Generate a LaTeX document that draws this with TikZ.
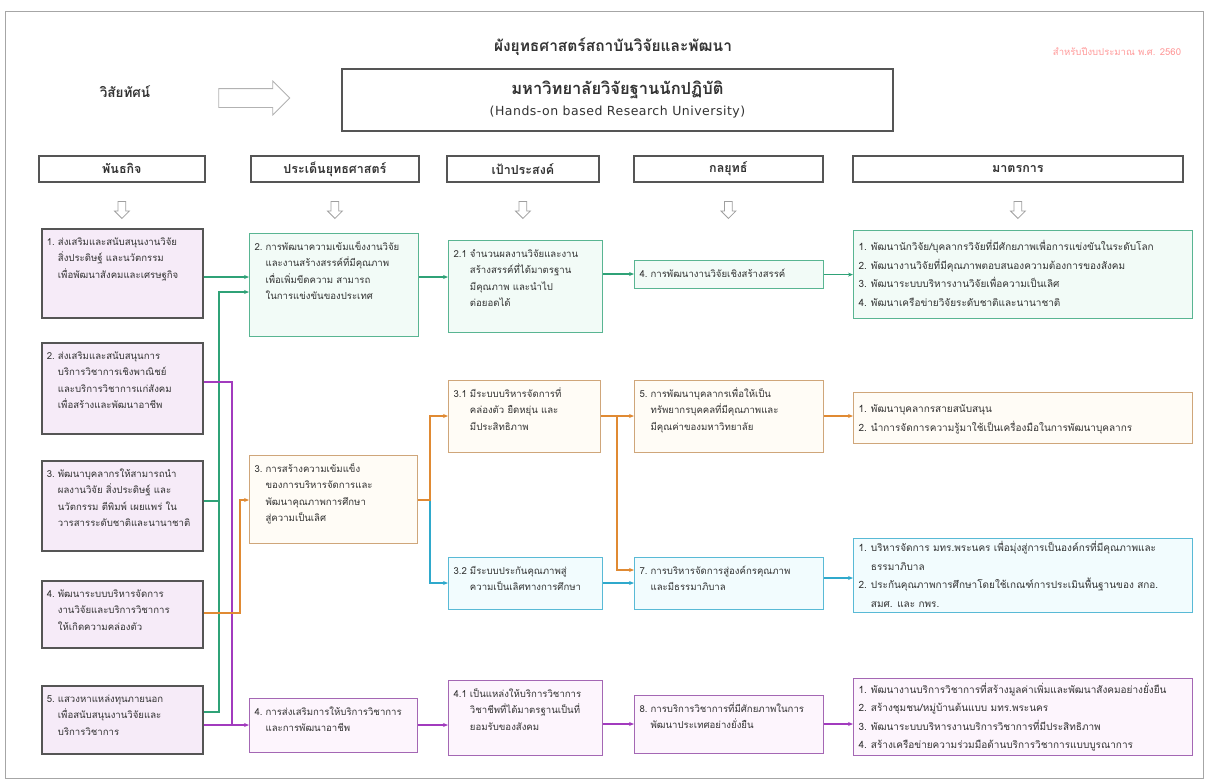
\documentclass[tikz,border=0pt]{standalone}
\usepackage{fontspec}
\newfontfamily\thai[Script=Thai]{Loma}
\newfontfamily\engfont[LetterSpace=4]{DejaVu Sans}
\usetikzlibrary{arrows.meta,shapes.arrows}

\definecolor{framegray}{HTML}{555555}
\definecolor{txtgray}{HTML}{333333}
\definecolor{misfill}{HTML}{F6EBF8}
\definecolor{grnline}{HTML}{2FA277}
\definecolor{grnfill}{HTML}{F2FBF7}
\definecolor{orgline}{HTML}{E08A33}
\definecolor{orgbox}{HTML}{CFA67A}
\definecolor{orgfill}{HTML}{FFFCF6}
\definecolor{cynline}{HTML}{2FA9CC}
\definecolor{cynfill}{HTML}{F2FCFE}
\definecolor{purline}{HTML}{A23BBE}
\definecolor{purbox}{HTML}{A467B4}
\definecolor{purfill}{HTML}{FDF5FD}

% box text: width, height (outer), vertical position, content
\newcommand\intxt[4][t]{\parbox[t][\dimexpr#3-10pt\relax][#1]{\dimexpr#2-10pt\relax}{#4}}
% numbered text with hanging indent
\newcommand\hangtxt[2]{\begin{tabular}[t]{@{}l@{\hspace{3pt}}l@{}}#1&\begin{tabular}[t]{@{}l@{}}#2\end{tabular}\end{tabular}}

\begin{document}
\begin{tikzpicture}[x=1pt,y=-1pt,
    >={Stealth[length=5pt,width=4pt]},
    cbox/.style={draw, line width=1.2pt, anchor=north west, inner sep=5pt,
      font=\thai\fontsize{9.6}{16.5}\selectfont, text=txtgray},
    misbox/.style={cbox, draw=framegray, line width=1.8pt, fill=misfill},
    grnbox/.style={cbox, draw=grnline!80, fill=grnfill},
    orgbox/.style={cbox, draw=orgbox, fill=orgfill},
    cynbox/.style={cbox, draw=cynline!80, fill=cynfill},
    purbox/.style={cbox, draw=purbox, fill=purfill},
    msrtxt/.style={font=\thai\fontsize{10}{18.5}\selectfont},
    hdr/.style={draw=framegray, line width=1.8pt, fill=white, anchor=north west,
      minimum height=26pt, font=\thai\bfseries\fontsize{12.5}{14}\selectfont, text=txtgray},
    downarr/.style={single arrow, draw=gray!75, fill=white, line width=0.8pt, rotate=-90,
      inner sep=3.5pt, single arrow head extend=3.5pt, minimum height=17pt},
    gline/.style={draw=grnline, line width=1.3pt},
    oline/.style={draw=orgline, line width=1.3pt},
    cline/.style={draw=cynline, line width=1.3pt},
    pline/.style={draw=purline, line width=1.3pt},
  ]
  \useasboundingbox (0,0) rectangle (1207,782);
  %\draw[help lines, color=gray!30, dashed] (0,0) grid[step=50] (1207,782);
  \draw[gray!70, line width=1pt] (5,11) rectangle (1203,778);

  % heading and vision
  \node[font=\thai\bfseries\fontsize{15.5}{18}\selectfont, text=txtgray] (title) at (613,47) {ผังยุทธศาสตร์สถาบันวิจัยและพัฒนา};
  \node[font=\thai\fontsize{9.5}{11}\selectfont, text=red!40] (year) at (1117,51) {สำหรับปีงบประมาณ พ.ศ. 2560};
  \node[font=\thai\bfseries\fontsize{13.5}{15}\selectfont, text=txtgray] (vislbl) at (125,92) {วิสัยทัศน์};
  \node[single arrow, draw=gray!60, fill=white, line width=0.8pt, inner sep=9pt,
    single arrow head extend=7.5pt, minimum height=71pt] (visarr) at (249.5,98) {};
  \node[hdr, minimum width=551pt, minimum height=62pt, align=center, font=\thai] (vision) at (341,68)
    {{\bfseries\fontsize{16.5}{18}\selectfont มหาวิทยาลัยวิจัยฐานนักปฏิบัติ}\\[6pt]
     {\engfont\fontsize{12.5}{14}\selectfont (Hands-on based Research University)}};

  % column headers
  \node[hdr, minimum width=166pt] (h1) at (38,155) {พันธกิจ};
  \node[hdr, minimum width=168pt] (h2) at (250,155) {ประเด็นยุทธศาสตร์};
  \node[hdr, minimum width=152pt] (h3) at (446,155) {เป้าประสงค์};
  \node[hdr, minimum width=189pt] (h4) at (633,155) {กลยุทธ์};
  \node[hdr, minimum width=330pt] (h5) at (852,155) {มาตรการ};
  \node[downarr] (d1) at (h1.south |- 0,208) {};
  \node[downarr] (d2) at (h2.south |- 0,208) {};
  \node[downarr] (d3) at (h3.south |- 0,208) {};
  \node[downarr] (d4) at (h4.south |- 0,208) {};
  \node[downarr] (d5) at (h5.south |- 0,208) {};

  % missions
  \node[misbox] (m1) at (41,228) {\intxt{161pt}{89pt}{\hangtxt{1.}{ส่งเสริมและสนับสนุนงานวิจัย\\สิ่งประดิษฐ์ และนวัตกรรม\\เพื่อพัฒนาสังคมและเศรษฐกิจ}}};
  \node[misbox] (m2) at (41,342) {\intxt{161pt}{91pt}{\hangtxt{2.}{ส่งเสริมและสนับสนุนการ\\บริการวิชาการเชิงพาณิชย์\\และบริการวิชาการแก่สังคม\\เพื่อสร้างและพัฒนาอาชีพ}}};
  \node[misbox] (m3) at (41,460) {\intxt{161pt}{90pt}{\hangtxt{3.}{พัฒนาบุคลากรให้สามารถนำ\\ผลงานวิจัย สิ่งประดิษฐ์ และ\\นวัตกรรม ตีพิมพ์ เผยแพร่ ใน\\วารสารระดับชาติและนานาชาติ}}};
  \node[misbox] (m4) at (41,580) {\intxt{161pt}{67pt}{\hangtxt{4.}{พัฒนาระบบบริหารจัดการ\\งานวิจัยและบริการวิชาการ\\ให้เกิดความคล่องตัว}}};
  \node[misbox] (m5) at (41,685) {\intxt{161pt}{68pt}{\hangtxt{5.}{แสวงหาแหล่งทุนภายนอก\\เพื่อสนับสนุนงานวิจัยและ\\บริการวิชาการ}}};

  % strategic issues
  \node[grnbox] (s2) at (249,233) {\intxt{169pt}{103pt}{\hangtxt{2.}{การพัฒนาความเข้มแข็งงานวิจัย\\และงานสร้างสรรค์ที่มีคุณภาพ\\เพื่อเพิ่มขีดความ สามารถ\\ในการแข่งขันของประเทศ}}};
  \node[orgbox] (s3) at (249,455) {\intxt{168pt}{88pt}{\hangtxt{3.}{การสร้างความเข้มแข็ง\\ของการบริหารจัดการและ\\พัฒนาคุณภาพการศึกษา\\สู่ความเป็นเลิศ}}};
  \node[purbox] (s4) at (249,698) {\intxt{168pt}{54pt}{\hangtxt{4.}{การส่งเสริมการให้บริการวิชาการ\\และการพัฒนาอาชีพ}}};

  % goals
  \node[grnbox] (g21) at (448,240) {\intxt{154pt}{92pt}{\hangtxt{2.1}{จำนวนผลงานวิจัยและงาน\\สร้างสรรค์ที่ได้มาตรฐาน\\มีคุณภาพ และนำไป\\ต่อยอดได้}}};
  \node[orgbox] (g31) at (448,380) {\intxt{152pt}{72pt}{\hangtxt{3.1}{มีระบบบริหารจัดการที่\\คล่องตัว ยืดหยุ่น และ\\มีประสิทธิภาพ}}};
  \node[cynbox] (g32) at (448,557) {\intxt{154pt}{52pt}{\hangtxt{3.2}{มีระบบประกันคุณภาพสู่\\ความเป็นเลิศทางการศึกษา}}};
  \node[purbox] (g41) at (448,680) {\intxt{154pt}{75pt}{\hangtxt{4.1}{เป็นแหล่งให้บริการวิชาการ\\วิชาชีพที่ได้มาตรฐานเป็นที่\\ยอมรับของสังคม}}};

  % strategies
  \node[grnbox] (t4) at (634,260) {\intxt[c]{189pt}{28pt}{\hangtxt{4.}{การพัฒนางานวิจัยเชิงสร้างสรรค์}}};
  \node[orgbox] (t5) at (634,380) {\intxt{189pt}{72pt}{\hangtxt{5.}{การพัฒนาบุคลากรเพื่อให้เป็น\\ทรัพยากรบุคคลที่มีคุณภาพและ\\มีคุณค่าของมหาวิทยาลัย}}};
  \node[cynbox] (t7) at (634,557) {\intxt{189pt}{52pt}{\hangtxt{7.}{การบริหารจัดการสู่องค์กรคุณภาพ\\และมีธรรมาภิบาล}}};
  \node[purbox] (t8) at (634,695) {\intxt{189pt}{58pt}{\hangtxt{8.}{การบริการวิชาการที่มีศักยภาพในการ\\พัฒนาประเทศอย่างยั่งยืน}}};

  % measures
  \node[grnbox, msrtxt] (x1) at (853,230) {\intxt[c]{339pt}{88pt}{\begin{tabular}{@{}l@{\hspace{4pt}}l@{}}
    1.&พัฒนานักวิจัย/บุคลากรวิจัยที่มีศักยภาพเพื่อการแข่งขันในระดับโลก\\
    2.&พัฒนางานวิจัยที่มีคุณภาพตอบสนองความต้องการของสังคม\\
    3.&พัฒนาระบบบริหารงานวิจัยเพื่อความเป็นเลิศ\\
    4.&พัฒนาเครือข่ายวิจัยระดับชาติและนานาชาติ\end{tabular}}};
  \node[orgbox, msrtxt] (x2) at (853,392) {\intxt[c]{339pt}{51pt}{\begin{tabular}{@{}l@{\hspace{4pt}}l@{}}
    1.&พัฒนาบุคลากรสายสนับสนุน\\
    2.&นำการจัดการความรู้มาใช้เป็นเครื่องมือในการพัฒนาบุคลากร\end{tabular}}};
  \node[cynbox, msrtxt] (x3) at (853,538) {\intxt[c]{339pt}{74pt}{\begin{tabular}{@{}l@{\hspace{4pt}}l@{}}
    1.&บริหารจัดการ มทร.พระนคร เพื่อมุ่งสู่การเป็นองค์กรที่มีคุณภาพและ\\
    &ธรรมาภิบาล\\
    2.&ประกันคุณภาพการศึกษาโดยใช้เกณฑ์การประเมินพื้นฐานของ สกอ.\\
    &สมศ. และ กพร.\end{tabular}}};
  \node[purbox, msrtxt] (x4) at (853,678) {\intxt[c]{339pt}{77pt}{\begin{tabular}{@{}l@{\hspace{4pt}}l@{}}
    1.&พัฒนางานบริการวิชาการที่สร้างมูลค่าเพิ่มและพัฒนาสังคมอย่างยั่งยืน\\
    2.&สร้างชุมชน/หมู่บ้านต้นแบบ มทร.พระนคร\\
    3.&พัฒนาระบบบริหารงานบริการวิชาการที่มีประสิทธิภาพ\\
    4.&สร้างเครือข่ายความร่วมมือด้านบริการวิชาการแบบบูรณาการ\end{tabular}}};

  % green links
  \coordinate (gbus) at (219,292);
  \draw[gline,->] (m1.east |- 0,277) -- (s2.west |- 0,277);
  \draw[gline,->] (m5.east |- 0,712) -| (gbus) -- (s2.west |- gbus);
  \draw[gline] (m3.east |- 0,501) -- (gbus |- 0,501);
  \draw[gline,->] (s2.east |- 0,277) -- (g21.west |- 0,277);
  \draw[gline,->] (g21.east |- 0,274) -- (t4.west |- 0,274);
  \draw[gline,->] (t4.east) -- (x1.west |- t4.east);

  % purple links
  \coordinate (pbus) at (232,382);
  \draw[pline,->] (m2.east |- pbus) -- (pbus) |- (s4.west |- 0,725);
  \draw[pline] (m5.east |- 0,725) -- (pbus |- 0,725);
  \draw[pline,->] (s4.east |- 0,725) -- (g41.west |- 0,725);
  \draw[pline,->] (g41.east |- 0,724) -- (t8.west |- 0,724);
  \draw[pline,->] (t8.east |- 0,724) -- (x4.west |- 0,724);

  % orange and blue links
  \coordinate (obus) at (240,500);
  \coordinate (osplit) at (430,500);
  \coordinate (obr) at (617,416);
  \draw[oline,->] (m4.east |- 0,613) -| (obus) -- (s3.west |- obus);
  \draw[cline,->] (osplit) |- (g32.west |- 0,583);
  \draw[oline,->] (s3.east |- osplit) -- (osplit) |- (g31.west |- 0,416);
  \draw[oline,->] (g31.east |- 0,416) -- (t5.west |- 0,416);
  \draw[oline,->] (obr) |- (t7.west |- 0,570);
  \draw[oline,->] (t5.east |- 0,416) -- (x2.west |- 0,416);
  \draw[cline,->] (g32.east |- 0,583) -- (t7.west |- 0,583);
  \draw[cline,->] (t7.east |- 0,578) -- (x3.west |- 0,578);
\end{tikzpicture}
\end{document}
